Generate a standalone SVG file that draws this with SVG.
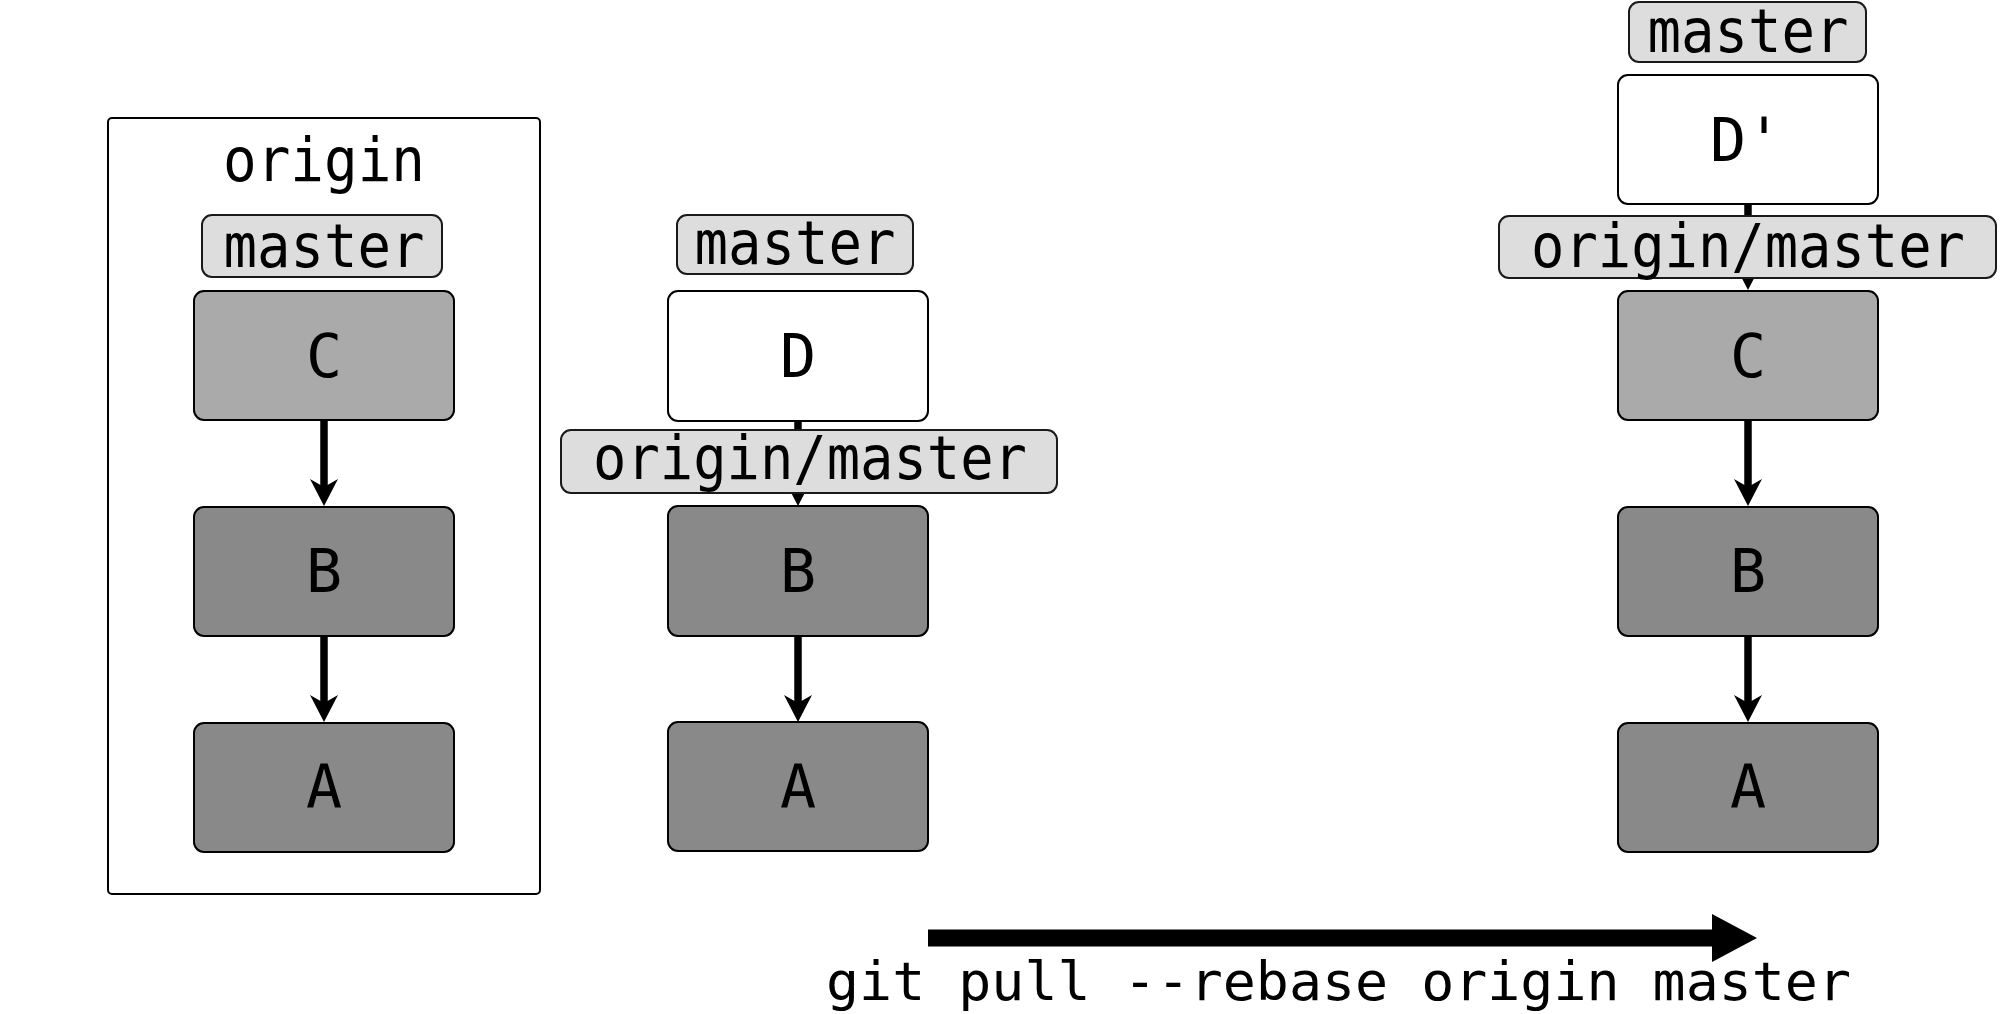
<svg xmlns="http://www.w3.org/2000/svg" width="2000" height="1014" viewBox="0 0 2000 1014">
  <style>
    .frame { fill: #ffffff; stroke: #000000; stroke-width: 2; }
    .node { stroke: #000000; stroke-width: 2; }
    .new { fill: #ffffff; }
    .tip { fill: #aaaaaa; }
    .old { fill: #898989; }
    .label { fill: #dddddd; stroke: #1a1a1a; stroke-width: 2; }
    .txt { font-family: "DejaVu Sans Mono", "Liberation Mono", monospace; fill: #000000; text-anchor: middle; }
    .big { font-size: 60px; }
    .lbl { font-size: 61px; }
    .cmd { font-size: 53px; text-anchor: start; }
    .edge { stroke: #000000; stroke-width: 7.5; fill: none; marker-end: url(#arrow); }
  </style>
  <defs>
    <marker id="arrow" markerUnits="userSpaceOnUse" markerWidth="60" markerHeight="60" refX="0" refY="0" orient="auto" overflow="visible">
      <path d="M19,0 L-8,-14 L0,0 L-8,14 Z" fill="#000000"/>
    </marker>
  </defs>

  <g id="origin-frame">
    <rect class="frame" x="108" y="118" width="432" height="776" rx="4"/>
    <text class="txt lbl" x="324" y="181" textLength="202" lengthAdjust="spacingAndGlyphs">origin</text>
  </g>

  <g id="connectors">
    <line class="edge" x1="324" y1="420" x2="324" y2="487"/>
    <line class="edge" x1="324" y1="636" x2="324" y2="703"/>
    <line class="edge" x1="798" y1="421" x2="798" y2="487"/>
    <line class="edge" x1="798" y1="636" x2="798" y2="703"/>
    <line class="edge" x1="1748" y1="204" x2="1748" y2="271"/>
    <line class="edge" x1="1748" y1="420" x2="1748" y2="487"/>
    <line class="edge" x1="1748" y1="636" x2="1748" y2="703"/>
    <path id="rebase-arrow" d="M928,929.5 L1712,929.5 L1712,914 L1757,938 L1712,962 L1712,946.5 L928,946.5 Z" fill="#000000"/>
  </g>

  <!-- column 1: origin -->
  <g id="o-C">
    <rect class="node tip" x="194" y="291" width="260" height="129" rx="10"/>
    <text class="txt big" x="324" y="377">C</text>
  </g>
  <g id="o-B">
    <rect class="node old" x="194" y="507" width="260" height="129" rx="10"/>
    <text class="txt big" x="324" y="592">B</text>
  </g>
  <g id="o-A">
    <rect class="node old" x="194" y="723" width="260" height="129" rx="10"/>
    <text class="txt big" x="324" y="808">A</text>
  </g>
  <g id="o-master">
    <rect class="label" x="202" y="215" width="240" height="62" rx="10"/>
    <text class="txt lbl" x="324" y="267" textLength="201" lengthAdjust="spacingAndGlyphs">master</text>
  </g>

  <!-- column 2: local before -->
  <g id="l-D">
    <rect class="node new" x="668" y="291" width="260" height="130" rx="10"/>
    <text class="txt big" x="798" y="377">D</text>
  </g>
  <g id="l-B">
    <rect class="node old" x="668" y="506" width="260" height="130" rx="10"/>
    <text class="txt big" x="798" y="592">B</text>
  </g>
  <g id="l-A">
    <rect class="node old" x="668" y="722" width="260" height="129" rx="10"/>
    <text class="txt big" x="798" y="808">A</text>
  </g>
  <g id="l-master">
    <rect class="label" x="677" y="215" width="236" height="59" rx="10"/>
    <text class="txt lbl" x="795" y="264" textLength="201" lengthAdjust="spacingAndGlyphs">master</text>
  </g>
  <g id="l-origin-master">
    <rect class="label" x="561" y="430" width="496" height="63" rx="10"/>
    <text class="txt lbl" x="810" y="479" textLength="434" lengthAdjust="spacingAndGlyphs">origin/master</text>
  </g>

  <!-- column 3: local after -->
  <g id="r-D2">
    <rect class="node new" x="1618" y="75" width="260" height="129" rx="10"/>
    <text class="txt big" x="1746" y="161">D'</text>
  </g>
  <g id="r-C">
    <rect class="node tip" x="1618" y="291" width="260" height="129" rx="10"/>
    <text class="txt big" x="1748" y="377">C</text>
  </g>
  <g id="r-B">
    <rect class="node old" x="1618" y="507" width="260" height="129" rx="10"/>
    <text class="txt big" x="1748" y="592">B</text>
  </g>
  <g id="r-A">
    <rect class="node old" x="1618" y="723" width="260" height="129" rx="10"/>
    <text class="txt big" x="1748" y="808">A</text>
  </g>
  <g id="r-master">
    <rect class="label" x="1629" y="2" width="237" height="60" rx="10"/>
    <text class="txt lbl" x="1748" y="52" textLength="201" lengthAdjust="spacingAndGlyphs">master</text>
  </g>
  <g id="r-origin-master">
    <rect class="label" x="1499" y="216" width="497" height="62" rx="10"/>
    <text class="txt lbl" x="1748" y="267" textLength="434" lengthAdjust="spacingAndGlyphs">origin/master</text>
  </g>

  <g id="command">
    <text class="txt cmd" x="826" y="1000" textLength="1025" lengthAdjust="spacingAndGlyphs">git pull --rebase origin master</text>
  </g>
</svg>
